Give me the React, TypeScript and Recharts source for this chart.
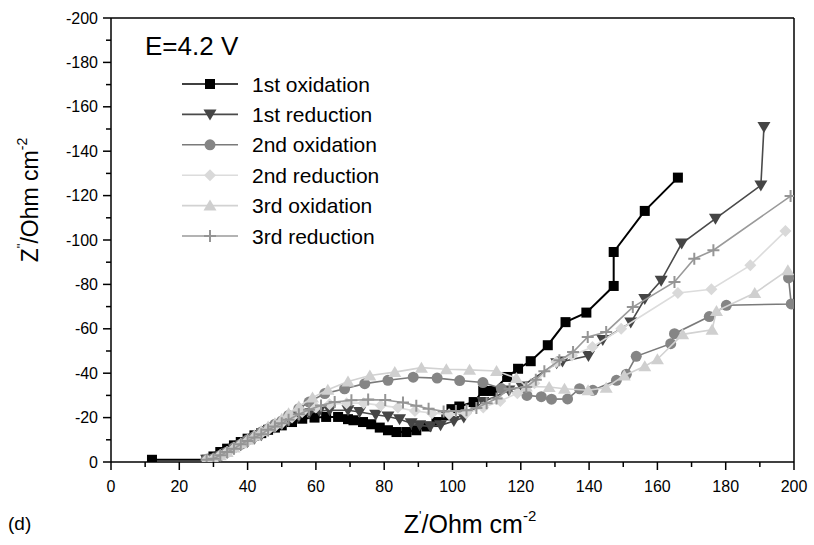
import React from 'react'
import { ScatterChart, Scatter, XAxis, YAxis, ReferenceLine, Legend } from 'recharts'

// Z' / Z'' pairs (Ohm cm^-2)
const firstOxidation: [number, number][] = [
  [12, -1], [28, -1], [30, -2.5], [32, -4.5], [34, -6], [36, -7.5], [38, -9], [40, -10.5], [42, -12],
  [44, -13], [46, -14.5], [48, -15.5], [50, -16.5], [53, -18], [56, -19.5], [59.6, -20], [63, -20.3],
  [66.5, -20.3], [69.4, -19.3], [71, -18.8], [73.8, -18], [76.2, -17], [78.7, -15.5], [81.1, -14.3],
  [83.6, -13.5], [86.5, -13.5], [89.4, -14.3], [92.4, -16], [95.3, -18], [98.2, -21], [99.7, -23.8],
  [102, -25], [106.2, -27], [109, -32], [111.7, -32], [116, -38.3], [119.2, -42], [122.9, -45.4],
  [127.9, -52.6], [133.1, -63], [139.2, -67.3], [147.2, -79.3], [147.2, -94.6], [156.3, -113.1], [166, -128.1],
]

const firstReduction: [number, number][] = [
  [28, -1], [30, -1.5], [32, -2.5], [34, -4], [36, -6], [38, -7.5], [40, -9], [42, -10.5], [44, -12],
  [46, -14], [48, -15.5], [50, -17], [52, -18.5], [55, -20.5], [58, -22], [61, -23], [64, -23.3],
  [69.4, -23.3], [72.8, -22.5], [77.5, -21.3], [81.1, -20.5], [84.5, -19.3], [87.9, -17.5], [90.4, -16.5],
  [93.5, -16], [96.5, -16.5], [100.4, -18.5], [103.3, -20], [108.9, -27], [116.5, -32.2], [120.2, -34],
  [130.5, -44.5], [132.2, -45.3], [139.8, -47.8], [144, -55], [152.2, -62.8], [156.3, -73.4], [161.1, -81.7],
  [167.1, -98.4], [177, -109.6], [190.3, -124.6], [191.2, -150.9],
]

const secondOxidation: [number, number][] = [
  [28, -1], [30, -1.5], [32, -3], [34, -4.5], [36, -6.5], [38, -8], [40, -10], [42, -11.5], [44, -13.5],
  [46, -15], [48, -17], [50, -18.5], [52, -21], [55, -24], [58, -27], [62.6, -30.8], [68.4, -33],
  [74.3, -35.3], [81.1, -36.8], [88.5, -38.2], [95.5, -37.8], [102.1, -36.7], [108.9, -35.8], [114.3, -33.1],
  [121.8, -30], [126, -29.4], [129, -28.3], [133.7, -28.4], [137.2, -33], [141.1, -32.3], [148, -36.8],
  [150.9, -39.5], [153.8, -47.6], [163.9, -53.3], [165, -57.8], [175.2, -65.5], [180.2, -70.6],
  [199.2, -71.2], [198.4, -82.9],
]

const secondReduction: [number, number][] = [
  [28, -1], [30, -1.5], [32, -3], [34, -4.5], [36, -6], [38, -8], [40, -9.5], [42, -11], [44, -13],
  [46, -14.5], [48, -16], [50, -17.5], [53, -20], [56, -22.5], [60, -24.5], [64, -26], [69, -26.5],
  [74, -26.5], [79, -25.5], [84, -24.5], [89, -23], [94, -22], [99, -21.5], [104, -22], [109, -24.5],
  [114, -27.5], [119, -31], [124, -35.5], [130.4, -45], [135, -48], [141, -51.8], [149.4, -60],
  [166, -76.1], [175.8, -77.8], [187.2, -88.6], [197.5, -104],
]

const thirdOxidation: [number, number][] = [
  [28, -1], [30, -1.5], [32, -3], [34, -4.5], [36, -6.5], [38, -8.5], [40, -10], [42, -12], [44, -14],
  [46, -16], [48, -17.5], [50, -19.5], [52, -22], [55, -25], [59, -29], [63.5, -32.5], [69.4, -36.3],
  [75.8, -39], [83.1, -40.5], [90.9, -42.5], [98.2, -41.8], [105, -41.5], [112.9, -41], [118.7, -37.8],
  [121.6, -34], [128.3, -33.8], [132.8, -33], [139.7, -32.3], [145, -33.5], [150.3, -39], [156.3, -43.1],
  [160, -46.3], [167.4, -57.5], [176, -59.6], [177.3, -68], [188.5, -76.1], [198.2, -86.4],
]

const thirdReduction: [number, number][] = [
  [28, -1], [30, -1.5], [32, -3], [34, -4.5], [36, -6], [38, -8], [40, -9.5], [42, -11], [44, -12.5],
  [46, -14.5], [48, -16], [50, -17.5], [52, -19], [55, -21.5], [58, -23.5], [61.5, -25.5], [65.5, -27],
  [70.4, -27.8], [75.3, -28.1], [80.3, -27.9], [85.5, -26.8], [89.4, -25.3], [93, -24], [97.4, -22.8],
  [101, -23], [104.1, -23.3], [107, -24.3], [110, -26.5], [112.9, -28.6], [116.7, -33], [121.6, -33.8],
  [124.4, -37.1], [126.9, -40.9], [131.3, -45.8], [135.3, -49.5], [139.6, -56.3], [145, -58.6],
  [152.8, -69.8], [165, -81.1], [170.8, -91.6], [176.4, -95.4], [199, -119.8],
]

const xTicks = [0, 10, 20, 30, 40, 50, 60, 70, 80, 90, 100, 110, 120, 130, 140, 150, 160, 170, 180, 190, 200]
const yTicks = [-200, -190, -180, -170, -160, -150, -140, -130, -120, -110, -100, -90, -80, -70, -60, -50, -40, -30, -20, -10, 0]

const FONT = '"Liberation Sans", Arial, Helvetica, sans-serif'

const series = [
  { name: '1st oxidation', points: firstOxidation, kind: 'square', fill: '#000000', stroke: '#000000', width: 2 },
  { name: '1st reduction', points: firstReduction, kind: 'down', fill: '#454545', stroke: '#4a4a4a', width: 1.6 },
  { name: '2nd oxidation', points: secondOxidation, kind: 'circle', fill: '#858585', stroke: '#7a7a7a', width: 1.6 },
  { name: '2nd reduction', points: secondReduction, kind: 'diamond', fill: '#d9d9d9', stroke: '#dcdcdc', width: 1.6 },
  { name: '3rd oxidation', points: thirdOxidation, kind: 'up', fill: '#cfcfcf', stroke: '#d2d2d2', width: 1.6 },
  { name: '3rd reduction', points: thirdReduction, kind: 'plus', fill: '#959595', stroke: '#9a9a9a', width: 1.6 },
]

function marker(kind: string, cx: number, cy: number, color: string) {
  switch (kind) {
    case 'square':
      return <rect x={cx - 5} y={cy - 5} width={10} height={10} fill={color} />
    case 'down':
      return <polygon points={`${cx - 6.5},${cy - 5} ${cx + 6.5},${cy - 5} ${cx},${cy + 6}`} fill={color} />
    case 'circle':
      return <circle cx={cx} cy={cy} r={5.5} fill={color} />
    case 'diamond':
      return <polygon points={`${cx},${cy - 6} ${cx + 6},${cy} ${cx},${cy + 6} ${cx - 6},${cy}`} fill={color} />
    case 'up':
      return <polygon points={`${cx - 6.5},${cy + 5} ${cx + 6.5},${cy + 5} ${cx},${cy - 6}`} fill={color} />
    default:
      return <path d={`M${cx - 6},${cy}H${cx + 6}M${cx},${cy - 6}V${cy + 6}`} stroke={color} strokeWidth={2} fill="none" />
  }
}

const XTick = ({ x, y, payload }: any) => {
  const major = payload.value % 20 === 0
  return (
    <g>
      <line x1={x} y1={y} x2={x} y2={y + (major ? 8 : 5)} stroke="#000" strokeWidth={1.5} />
      {major && (
        <text x={x} y={y + 30} textAnchor="middle" fontSize={16} fontFamily={FONT} fill="#000">
          {payload.value}
        </text>
      )}
    </g>
  )
}

const YTick = ({ x, y, payload }: any) => {
  const major = payload.value % 20 === 0
  return (
    <g>
      <line x1={x} y1={y} x2={x - (major ? 8 : 5)} y2={y} stroke="#000" strokeWidth={1.5} />
      {major && (
        <text x={x - 13} y={y + 5.5} textAnchor="end" fontSize={16} fontFamily={FONT} fill="#000">
          {payload.value}
        </text>
      )}
    </g>
  )
}

const LegendBox = () => (
  <svg width={260} height={190}>
    {series.map((s, i) => {
      const cy = 16 + i * 30.4
      return (
        <g key={s.name}>
          <line x1={7} y1={cy} x2={63} y2={cy} stroke={s.stroke} strokeWidth={1.6} />
          {marker(s.kind, 35, cy, s.fill)}
          <text x={77} y={cy + 7.5} fontSize={21} fontFamily={FONT} fill="#000">
            {s.name}
          </text>
        </g>
      )
    })}
  </svg>
)

export default function App() {
  return (
    <div style={{ position: 'absolute', left: 0, top: 0, width: 814, height: 545, background: '#fff' }}>
      <ScatterChart width={814} height={545} margin={{ top: 18, right: 20, bottom: 53, left: 51 }}>
        <XAxis
          type="number"
          dataKey="x"
          domain={[0, 200]}
          ticks={xTicks}
          interval={0}
          height={30}
          tickSize={0}
          tickMargin={0}
          tickLine={false}
          tick={<XTick />}
          axisLine={{ stroke: '#000', strokeWidth: 1.5 }}
          allowDataOverflow
        />
        <YAxis
          type="number"
          dataKey="y"
          domain={[-200, 0]}
          reversed
          ticks={yTicks}
          interval={0}
          width={60}
          tickSize={0}
          tickMargin={0}
          tickLine={false}
          tick={<YTick />}
          axisLine={{ stroke: '#000', strokeWidth: 1.5 }}
          allowDataOverflow
        />
        <ReferenceLine y={-200} stroke="#000" strokeWidth={1.5} />
        <ReferenceLine x={200} stroke="#000" strokeWidth={1.5} />
        {series.map((s) => (
          <Scatter
            key={s.name}
            name={s.name}
            data={s.points.map(([x, y]) => ({ x, y }))}
            line={{ stroke: s.stroke, strokeWidth: s.width }}
            lineType="joint"
            shape={(p: any) => marker(s.kind, p.cx, p.cy, s.fill)}
            isAnimationActive={false}
          />
        ))}
        <Legend
          layout="vertical"
          align="center"
          verticalAlign="middle"
          content={() => <LegendBox />}
          wrapperStyle={{ left: 175, top: 68, width: 260, height: 190 }}
        />
      </ScatterChart>
      <svg
        width={814}
        height={545}
        style={{ position: 'absolute', left: 0, top: 0, pointerEvents: 'none' }}
        fontFamily={FONT}
      >
        <text x={145} y={55} fontSize={26} fill="#000">E=4.2 V</text>
        <text x={8} y={530} fontSize={19} fill="#000">(d)</text>
        <text x={470} y={533} fontSize={25} textAnchor="middle" fill="#000">
          Z<tspan fontSize={13} dy={-13}>'</tspan>
          <tspan dy={13}>/Ohm cm</tspan>
          <tspan fontSize={15} dy={-12}>-2</tspan>
        </text>
        <text transform="translate(38,200) rotate(-90)" fontSize={23} textAnchor="middle" fill="#000">
          Z<tspan fontSize={13} dy={-12}>"</tspan>
          <tspan dy={12}>/Ohm cm</tspan>
          <tspan fontSize={14} dy={-11}>-2</tspan>
        </text>
      </svg>
    </div>
  )
}
